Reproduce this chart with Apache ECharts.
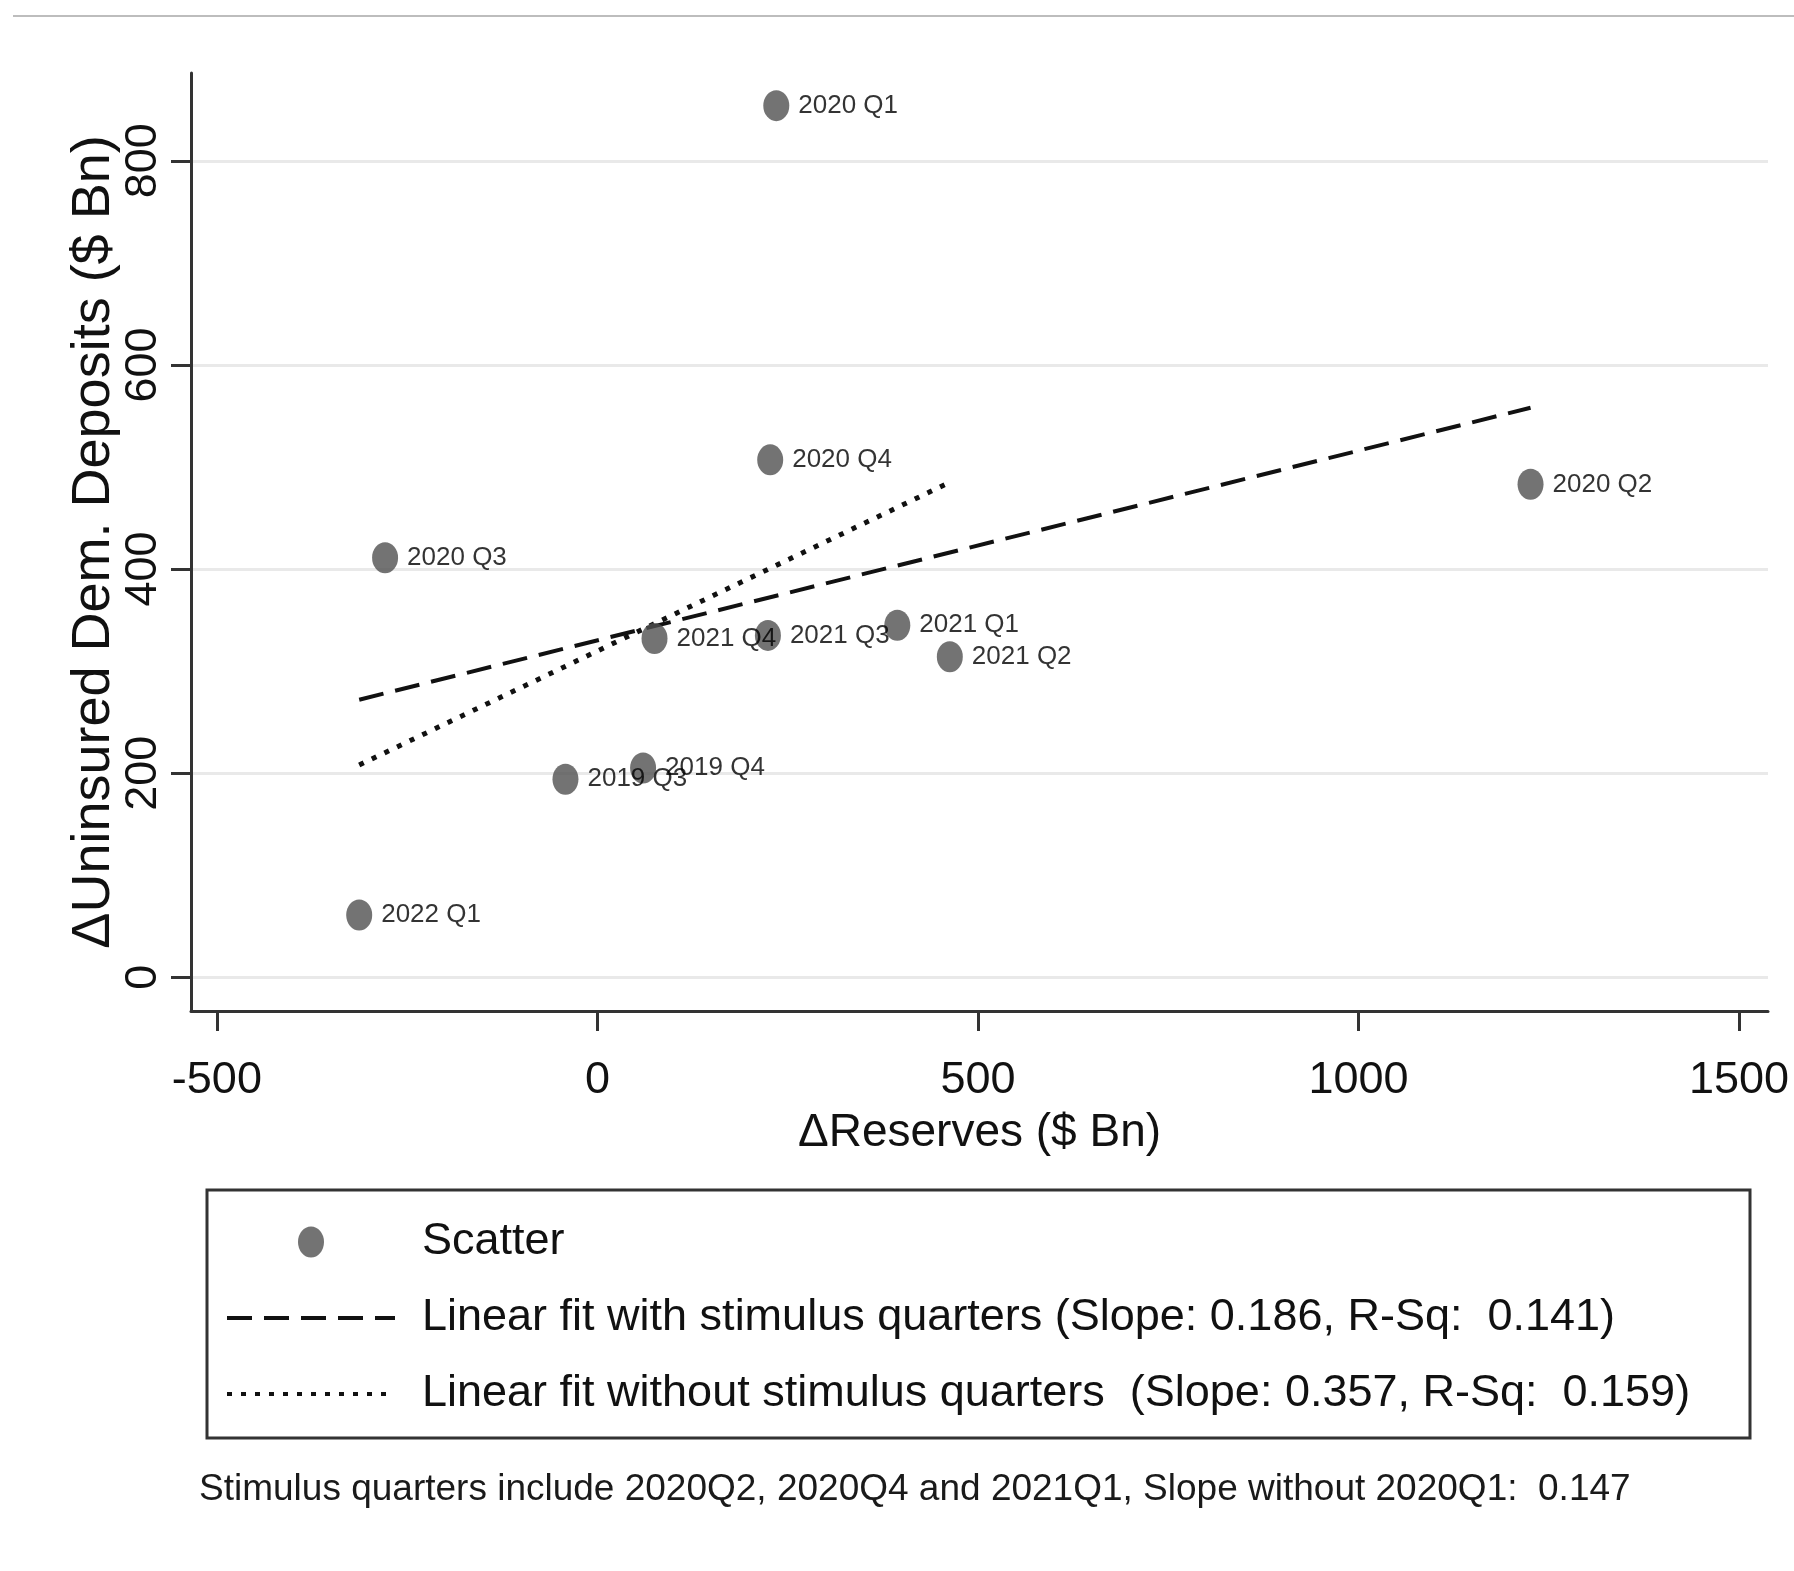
<!DOCTYPE html>
<html>
<head>
<meta charset="utf-8">
<script src="https://cdn.jsdelivr.net/npm/echarts@6/dist/echarts.min.js"></script>
<style>
html,body{margin:0;padding:0;background:#fff;}
#chart{width:1794px;height:1571px;}
</style>
</head>
<body>
<div id="chart"></div>
<script>
// ---- data ----
const pointNames = ['2020 Q1','2020 Q4','2020 Q2','2020 Q3','2021 Q4','2021 Q3','2021 Q1','2021 Q2','2019 Q4','2019 Q3','2022 Q1'];
const reservesChange = [235, 227, 1226, -279, 75, 224, 394, 463, 60, -42, -313];
const depositsChange = [854, 507, 483, 411, 332, 335, 345, 314, 205, 194, 61];
const fitWithX = [-313, 1226];
const fitWithY = [272, 558];
const fitWithoutX = [-313, 463];
const fitWithoutY = [208, 485];
const xTicks = [-500, 0, 500, 1000, 1500];
const yTicks = [0, 200, 400, 600, 800];
const seriesNames = ['Scatter',
  'Linear fit with stimulus quarters (Slope: 0.186, R-Sq:  0.141)',
  'Linear fit without stimulus quarters  (Slope: 0.357, R-Sq:  0.159)'];
const footnote = 'Stimulus quarters include 2020Q2, 2020Q4 and 2021Q1, Slope without 2020Q1:  0.147';
const xTitle = '\u0394Reserves ($ Bn)';
const yTitle = '\u0394Uninsured Dem. Deposits ($ Bn)';

const FONT = '"Liberation Sans", Arial, sans-serif';
const ELLIPSE = 'path://M0,15.5 A13,15.5 0 1 0 26,15.5 A13,15.5 0 1 0 0,15.5 Z';

const scatterData = pointNames.map((n, i) => ({name: n, value: [reservesChange[i], depositsChange[i]]}));
const fitWith = fitWithX.map((x, i) => [x, fitWithY[i]]);
const fitWithout = fitWithoutX.map((x, i) => [x, fitWithoutY[i]]);
const plain = v => String(v);

const chart = echarts.init(document.getElementById('chart'), null, {renderer: 'canvas'});
chart.setOption({
  backgroundColor: '#ffffff',
  animation: false,
  grid: {left: 191, right: 26, top: 73, bottom: 560, containLabel: false, outerBoundsMode: 'none'},
  xAxis: {
    type: 'value', min: -534, max: 1538,
    name: xTitle, nameLocation: 'middle', nameGap: 99, nameMoveOverlap: false,
    nameTextStyle: {fontFamily: FONT, fontSize: 46, color: '#111'},
    axisLine: {show: true, onZero: false, lineStyle: {color: '#333', width: 3}},
    axisTick: {show: true, length: 20, lineStyle: {color: '#333', width: 3}, customValues: xTicks},
    axisLabel: {show: true, margin: 47, fontFamily: FONT, fontSize: 45, color: '#111', customValues: xTicks, formatter: plain},
    splitLine: {show: false}
  },
  yAxis: {
    type: 'value', min: -33, max: 886,
    name: yTitle, nameLocation: 'middle', nameGap: 70, nameRotate: 90, nameMoveOverlap: false,
    nameTextStyle: {fontFamily: FONT, fontSize: 54, color: '#111'},
    axisLine: {show: true, onZero: false, lineStyle: {color: '#333', width: 3}},
    axisTick: {show: true, length: 20, lineStyle: {color: '#333', width: 3}, customValues: yTicks},
    axisLabel: {show: true, rotate: 90, margin: 25, fontFamily: FONT, fontSize: 45, color: '#111', customValues: yTicks, formatter: plain},
    splitLine: {show: true, lineStyle: {color: '#e9e9e9', width: 3}}
  },
  legend: {
    orient: 'vertical', left: 225, top: 1215, padding: 0,
    itemWidth: 168, itemHeight: 31, itemGap: 22,
    lineStyle: {width: 4},
    textStyle: {fontFamily: FONT, fontSize: 45, color: '#111', lineHeight: 54, padding: [0, 0, 0, 22]},
    data: [{name: seriesNames[0], icon: ELLIPSE}, {name: seriesNames[1]}, {name: seriesNames[2]}],
    selectedMode: false
  },
  series: [
    {
      name: seriesNames[0], type: 'scatter', z: 5,
      symbol: ELLIPSE, symbolSize: [26, 31],
      itemStyle: {color: '#505050'},
      label: {show: true, position: 'right', distance: 9, formatter: '{b}',
              fontFamily: FONT, fontSize: 26, color: '#000'},
      data: scatterData
    },
    {
      name: seriesNames[1], type: 'line', z: 3, symbol: 'none', showSymbol: false,
      lineStyle: {color: '#111', width: 4, type: [25, 12]},
      itemStyle: {color: '#111', opacity: 0},
      data: fitWith
    },
    {
      name: seriesNames[2], type: 'line', z: 3, symbol: 'none', showSymbol: false,
      lineStyle: {color: '#111', width: 5, type: [5, 9]},
      itemStyle: {color: '#111', opacity: 0},
      data: fitWithout
    }
  ],
  graphic: [
    {type: 'line', shape: {x1: 13, y1: 16, x2: 1794, y2: 16}, style: {stroke: '#bdbdbd', lineWidth: 2}, silent: true},
    {type: 'rect', shape: {x: 207, y: 1190, width: 1543, height: 248}, style: {fill: 'none', stroke: '#333', lineWidth: 3}, silent: true},
    {type: 'text', left: 199, top: 1471, style: {text: footnote, fontFamily: FONT, fontSize: 37, fill: '#1a1a1a'}, silent: true}
  ]
});
</script>
</body>
</html>
